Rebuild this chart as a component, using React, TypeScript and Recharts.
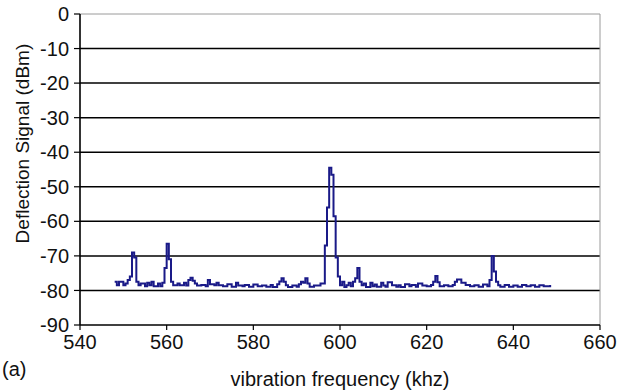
import React from "react";
import {
  LineChart,
  Line,
  XAxis,
  YAxis,
  CartesianGrid,
  ReferenceLine,
} from "recharts";

// frequency (kHz) where the analyser trace changes level
const freqs = [
  548, 548.5, 549, 550, 550.5, 551, 551.5, 552, 552.5, 553, 553.5, 554, 555, 555.5, 556, 556.5,
  557, 558, 558.5, 559, 559.5, 560, 560.5, 561, 561.5, 562.5, 563, 564, 564.5, 565, 565.5, 566,
  566.5, 567, 568, 569, 569.5, 570, 571, 571.5, 572, 573, 574, 575, 576, 576.5, 577.5, 578, 579,
  580, 581, 582, 583, 584, 584.5, 585.5, 586, 586.5, 587, 587.5, 588, 589, 590, 590.5, 591, 591.5,
  592, 592.5, 593, 594, 595, 595.5, 596, 596.5, 597, 597.5, 598, 598.5, 599, 599.5, 600, 600.5,
  601, 601.5, 602, 602.5, 603, 603.5, 604, 604.5, 605, 605.5, 606, 607, 607.5, 608, 608.5, 609.5,
  610, 610.5, 611, 612, 613, 613.5, 614, 615, 616, 616.5, 617.5, 618, 619, 620, 621, 621.5, 622,
  622.5, 623, 624, 625, 626, 626.5, 627, 628, 629, 630, 631, 632, 633, 634, 634.5, 635, 635.5,
  636, 636.5, 637, 638, 639, 640, 641, 642, 643, 644, 645, 646, 647, 648.5,
];

// deflection signal (dBm) at each of those frequencies
const signal = [
  -77.5, -78.5, -77.5, -78.5, -78.0, -77.0, -76.0, -69.0, -70.5, -77.5, -78.5, -78.0, -78.8, -77.8, -78.5, -77.5,
  -78.8, -78.0, -78.8, -77.8, -73.5, -66.5, -71.0, -77.5, -78.5, -78.0, -78.5, -77.8, -78.6, -77.0, -76.3, -77.2,
  -78.0, -78.6, -78.4, -78.8, -77.0, -78.2, -78.5, -77.8, -78.5, -78.8, -78.2, -78.9, -77.8, -78.6, -78.8, -78.4, -78.9,
  -78.3, -78.8, -78.6, -78.9, -78.4, -79.0, -78.2, -77.4, -76.5, -77.5, -78.5, -79.0, -78.6, -78.9, -78.2, -77.5, -77.8,
  -76.5, -78.0, -78.9, -78.6, -78.6, -78.0, -78.0, -67.0, -56.0, -44.5, -46.5, -58.5, -70.5, -76.0, -78.5, -77.5,
  -79.0, -78.5, -77.8, -78.8, -77.5, -76.5, -73.5, -77.5, -78.5, -78.0, -79.0, -77.8, -78.8, -78.3, -78.9, -77.8, -78.6,
  -78.9, -77.6, -78.5, -78.9, -78.5, -79.0, -78.2, -78.8, -78.4, -78.9, -78.0, -78.6, -78.8, -78.4, -77.5, -75.8, -77.6,
  -78.8, -78.5, -78.8, -78.4, -77.5, -76.8, -77.8, -78.4, -78.8, -78.5, -78.9, -78.3, -78.8, -77.0, -70.0, -74.5, -77.5,
  -78.5, -78.9, -78.4, -78.9, -78.6, -78.9, -78.4, -78.8, -78.5, -78.9, -78.5, -78.8, -78.4, -78.4,
];

const xTicks = [540, 560, 580, 600, 620, 640, 660];
const yTicks = [0, -10, -20, -30, -40, -50, -60, -70, -80, -90];
const gridLevels = [-10, -20, -30, -40, -50, -60, -70, -80];

const data = freqs.map((f, i) => ({ f, db: signal[i] }));

const FONT = "Liberation Sans, Arial, sans-serif";

const YTitle = (props: any) => {
  const vb = props.viewBox || {};
  const cy = vb.y != null ? vb.y + (vb.height * 37.5) / 90 : 145;
  const x = 23;
  return (
    <text
      x={x}
      y={cy}
      transform={`rotate(-90, ${x}, ${cy})`}
      textAnchor="middle"
      dominantBaseline="central"
      fontSize={19}
      fontFamily={FONT}
      fill="#111"
    >
      Deflection Signal (dBm)
    </text>
  );
};

export default function App() {
  return (
    <div style={{ position: "absolute", left: 0, top: 0, width: 625, height: 392, background: "#fff" }}>
      <LineChart
        width={625}
        height={392}
        data={data}
        margin={{ top: 14, right: 25, left: 20, bottom: 5 }}
      >
        <CartesianGrid
          horizontal
          vertical={false}
          horizontalValues={gridLevels}
          stroke="#000"
          strokeWidth={1.5}
        />
        <ReferenceLine y={0} stroke="#9a9a9a" strokeWidth={1} />
        <ReferenceLine x={660} stroke="#9a9a9a" strokeWidth={1} />
        <XAxis
          type="number"
          dataKey="f"
          domain={[540, 660]}
          ticks={xTicks}
          interval={0}
          height={62}
          axisLine={{ stroke: "#000", strokeWidth: 1.5 }}
          tickLine={{ stroke: "#000", strokeWidth: 1.2 }}
          tickSize={5}
          tickMargin={5}
          tick={{ fontSize: 20, fill: "#111", fontFamily: FONT }}
          label={{
            value: "vibration frequency (khz)",
            position: "insideBottom",
            offset: 1,
            fontSize: 20,
            fill: "#111",
            fontFamily: FONT,
          }}
        />
        <YAxis
          type="number"
          domain={[-90, 0]}
          ticks={yTicks}
          interval={0}
          width={60}
          axisLine={{ stroke: "#000", strokeWidth: 1.6 }}
          tickLine={{ stroke: "#000", strokeWidth: 1.2 }}
          tickSize={6}
          tickMargin={5}
          tick={{ fontSize: 20, fill: "#111", fontFamily: FONT }}
          label={YTitle}
        />
        <Line
          type="stepAfter"
          dataKey="db"
          stroke="#1a1a88"
          strokeWidth={2}
          dot={false}
          isAnimationActive={false}
        />
      </LineChart>
      <div
        style={{
          position: "absolute",
          left: 2,
          top: 358,
          fontSize: 20,
          lineHeight: "23px",
          fontFamily: FONT,
          color: "#111",
        }}
      >
        (a)
      </div>
    </div>
  );
}
